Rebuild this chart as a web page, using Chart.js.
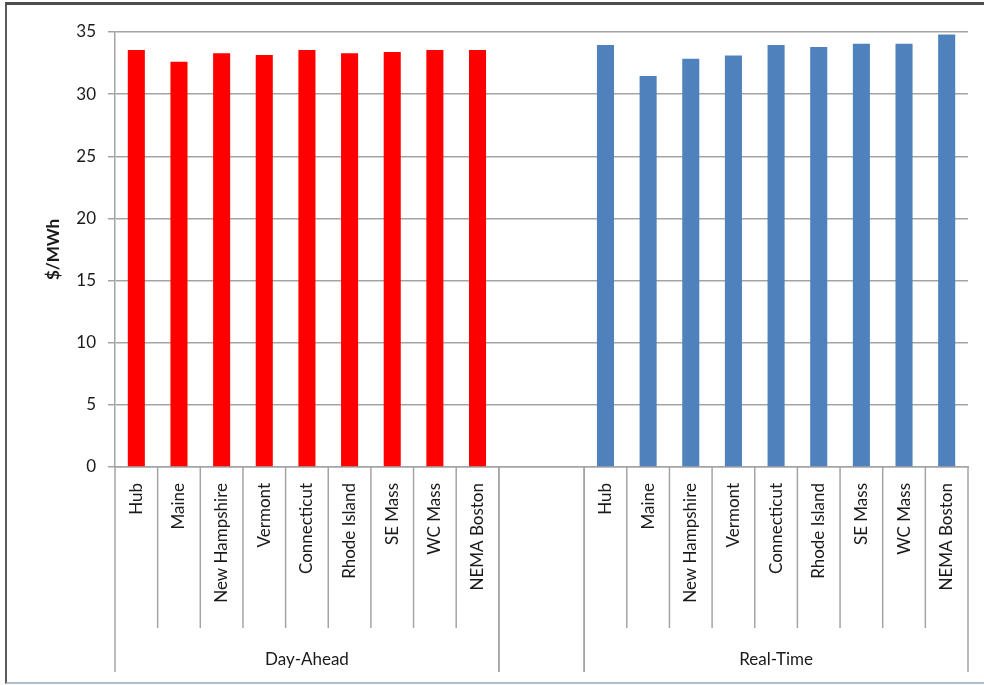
<!DOCTYPE html>
<html>
<head>
<meta charset="utf-8">
<script src="https://cdn.jsdelivr.net/npm/chart.js@4/dist/chart.umd.min.js"></script>
<style>
  body { margin: 0; background: #fff; }
  #wrap { position: relative; width: 984px; height: 685px; overflow: hidden; }
  #frame {
    position: absolute; left: 5px; top: 2px; width: 990px; height: 677px;
    border-top: 3px solid #4d4d4d; border-left: 2px solid #5c5c5c;
    border-bottom: 2px solid #aebdca; pointer-events: none;
  }
</style>
</head>
<body>
<div id="wrap">
  <canvas id="zone-price-chart" width="984" height="685"></canvas>
  <div id="frame"></div>
</div>
<script>
const zones = ['Hub', 'Maine', 'New Hampshire', 'Vermont', 'Connecticut',
    'Rhode Island', 'SE Mass', 'WC Mass', 'NEMA Boston'];
const groupNames = ['Day-Ahead', '', 'Real-Time'];
const groupSizes = [9, 2, 9];
const dayAhead = [33.55, 32.6, 33.3, 33.15, 33.55, 33.3, 33.4, 33.55, 33.55];
const realTime = [33.95, 31.45, 32.85, 33.1, 33.95, 33.8, 34.05, 34.05, 34.8];
const yTicks = [0, 5, 10, 15, 20, 25, 30, 35];

const gridColor = '#a4a4a4';
const textColor = '#1a1a1a';
const fontFamily = 'Lato, "Open Sans", sans-serif';

// blank categories fill the gap between the two groups
const gap = new Array(groupSizes[1]).fill('');
const labels = zones.concat(gap, zones);
const blanks = new Array(zones.length + gap.length).fill(null);
const dayAheadData = dayAhead.concat(blanks);
const realTimeData = blanks.concat(realTime);

// separators and group names under the category labels
const groupAxisPlugin = {
    id: 'groupAxis',
    afterDraw(chart) {
        const ctx = chart.ctx;
        const x = chart.scales.x;
        const area = chart.chartArea;
        const half = (x.getPixelForValue(1) - x.getPixelForValue(0)) / 2;
        const shortEnd = area.bottom + 161;
        const longEnd = area.bottom + 205;
        const edge = i => x.getPixelForValue(i) - half;

        ctx.save();
        ctx.strokeStyle = gridColor;
        ctx.lineWidth = 1.5;
        let start = 0;
        groupSizes.forEach((size, g) => {
            const end = start + size;
            const blank = groupNames[g] === '';
            for (let i = start; i <= end; i++) {
                const outer = i === start || i === end;
                if (blank && !outer) continue;
                ctx.beginPath();
                ctx.moveTo(edge(i), area.bottom);
                ctx.lineTo(edge(i), outer ? longEnd : shortEnd);
                ctx.stroke();
            }
            if (!blank) {
                ctx.fillStyle = textColor;
                ctx.font = '17px ' + fontFamily;
                ctx.textAlign = 'center';
                ctx.textBaseline = 'middle';
                ctx.fillText(groupNames[g], (edge(start) + edge(end)) / 2, area.bottom + 193);
            }
            start = end;
        });
        ctx.restore();
    }
};

new Chart(document.getElementById('zone-price-chart'), {
    type: 'bar',
    data: {
        labels: labels,
        datasets: [{
            label: 'Day-Ahead',
            data: dayAheadData,
            backgroundColor: '#FF0000',
            barPercentage: 0.4,
            categoryPercentage: 1,
        }, {
            label: 'Real-Time',
            data: realTimeData,
            backgroundColor: '#4F81BD',
            barPercentage: 0.4,
            categoryPercentage: 1,
        }]
    },
    options: {
        responsive: false,
        animation: false,
        grouped: false,
        layout: {
            padding: { top: 32, right: 16, left: 0, bottom: 0 }
        },
        plugins: {
            legend: { display: false },
            tooltip: { enabled: false }
        },
        scales: {
            x: {
                grid: { display: false },
                border: { display: true, color: gridColor, width: 1.5 },
                ticks: {
                    color: textColor,
                    font: { family: fontFamily, size: 17 },
                    minRotation: 90,
                    maxRotation: 90,
                    autoSkip: false,
                    padding: 8,
                },
                afterFit(scale) { scale.height = 218; }
            },
            y: {
                min: 0,
                max: 35,
                afterBuildTicks(scale) { scale.ticks = yTicks.map(v => ({ value: v })); },
                grid: { color: gridColor, lineWidth: 1.5, tickLength: 7 },
                border: { display: true, color: gridColor, width: 1.5 },
                ticks: {
                    color: textColor,
                    font: { family: fontFamily, size: 17 },
                    padding: 12,
                },
                title: {
                    display: true,
                    text: '$/MWh',
                    color: textColor,
                    font: { family: fontFamily, size: 17, weight: 'bold' },
                    padding: { top: 43, bottom: 0 }
                },
                afterFit(scale) { scale.width = 115; }
            }
        }
    },
    plugins: [groupAxisPlugin]
});
</script>
</body>
</html>
